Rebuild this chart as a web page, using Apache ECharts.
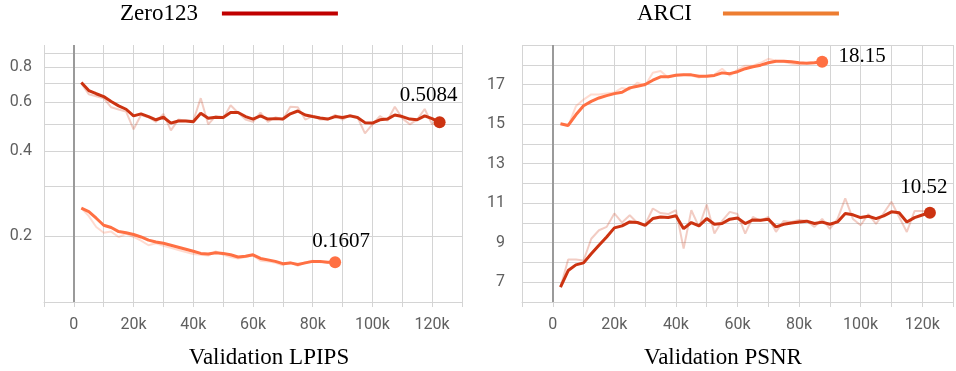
<!DOCTYPE html>
<html>
<head>
<meta charset="utf-8">
<script src="https://cdn.jsdelivr.net/npm/echarts@6/dist/echarts.min.js"></script>
<style>
  html, body { margin: 0; padding: 0; background: #fff; }
  #chart { width: 956px; height: 371px; }
</style>
</head>
<body>
<div id="chart"></div>
<script>
// validation steps (every 2.5k)
const steps = [2500, 5000, 7500, 10000, 12500, 15000, 17500, 20000, 22500, 25000,
  27500, 30000, 32500, 35000, 37500, 40000, 42500, 45000, 47500, 50000,
  52500, 55000, 57500, 60000, 62500, 65000, 67500, 70000, 72500, 75000,
  77500, 80000, 82500, 85000, 87500, 90000, 92500, 95000, 97500, 100000,
  102500, 105000, 107500, 110000, 112500, 115000, 117500, 120000, 122500];

// LPIPS (smoothed + raw)
const zeroLpips = [0.705, 0.660, 0.643, 0.628, 0.603, 0.582, 0.566, 0.536, 0.545, 0.533,
  0.519, 0.530, 0.505, 0.514, 0.514, 0.511, 0.548, 0.526, 0.530, 0.529,
  0.551, 0.551, 0.533, 0.522, 0.536, 0.522, 0.524, 0.522, 0.545, 0.558,
  0.540, 0.533, 0.527, 0.522, 0.533, 0.529, 0.536, 0.529, 0.507, 0.505,
  0.519, 0.522, 0.540, 0.533, 0.522, 0.519, 0.536, 0.524, 0.5084];
const zeroLpipsRaw = [0.700, 0.640, 0.630, 0.620, 0.575, 0.565, 0.555, 0.480, 0.540, 0.530,
  0.510, 0.545, 0.476, 0.520, 0.515, 0.515, 0.620, 0.500, 0.535, 0.525,
  0.585, 0.550, 0.520, 0.510, 0.550, 0.510, 0.530, 0.520, 0.578, 0.575,
  0.520, 0.535, 0.520, 0.520, 0.540, 0.520, 0.540, 0.530, 0.464, 0.500,
  0.535, 0.515, 0.578, 0.525, 0.500, 0.520, 0.567, 0.500, 0.510];
const arciLpips = [0.251, 0.244, 0.231, 0.218, 0.214, 0.207, 0.205, 0.202, 0.198, 0.193,
  0.190, 0.188, 0.185, 0.182, 0.179, 0.176, 0.173, 0.172, 0.174, 0.173,
  0.171, 0.168, 0.169, 0.171, 0.166, 0.164, 0.162, 0.159, 0.160, 0.158,
  0.160, 0.162, 0.162, 0.161, 0.1607];
const arciLpipsRaw = [0.251, 0.235, 0.215, 0.205, 0.207, 0.198, 0.203, 0.198, 0.192, 0.185,
  0.188, 0.184, 0.181, 0.178, 0.175, 0.172, 0.171, 0.170, 0.176, 0.171,
  0.168, 0.166, 0.168, 0.170, 0.163, 0.162, 0.160, 0.157, 0.161, 0.156,
  0.161, 0.163, 0.161, 0.160, 0.161];

// PSNR (smoothed + raw)
const zeroPsnr = [6.75, 7.59, 7.88, 7.98, 8.44, 8.87, 9.29, 9.75, 9.85, 10.05,
  10.02, 9.88, 10.22, 10.30, 10.27, 10.36, 9.71, 10.02, 9.85, 10.22,
  9.93, 9.97, 10.19, 10.25, 9.97, 10.15, 10.14, 10.19, 9.80, 9.93,
  10.00, 10.05, 10.09, 9.97, 10.04, 9.93, 10.05, 10.48, 10.41, 10.27,
  10.34, 10.22, 10.36, 10.56, 10.51, 10.05, 10.27, 10.40, 10.52];
const zeroPsnrRaw = [6.75, 8.15, 8.15, 8.10, 9.20, 9.63, 9.80, 10.48, 10.02, 10.39,
  10.00, 9.92, 10.73, 10.50, 10.45, 10.64, 8.70, 10.64, 9.80, 10.93,
  9.46, 10.10, 10.56, 10.45, 9.46, 10.30, 10.10, 10.30, 9.55, 10.10,
  10.05, 10.15, 10.10, 9.80, 10.20, 9.70, 10.20, 11.24, 10.20, 9.88,
  10.45, 9.95, 10.50, 11.07, 10.30, 9.54, 10.60, 10.60, 10.52];
const arciPsnr = [15.02, 14.93, 15.47, 15.93, 16.15, 16.32, 16.44, 16.54, 16.61, 16.83,
  16.91, 17.00, 17.22, 17.39, 17.39, 17.47, 17.49, 17.49, 17.42, 17.42,
  17.46, 17.59, 17.55, 17.65, 17.80, 17.90, 17.98, 18.10, 18.18, 18.18,
  18.15, 18.10, 18.08, 18.10, 18.15];
const arciPsnrRaw = [15.00, 14.90, 15.90, 16.24, 16.50, 16.50, 16.55, 16.60, 16.83, 16.75,
  17.10, 16.95, 17.60, 17.68, 17.35, 17.50, 17.50, 17.45, 17.35, 17.45,
  17.50, 17.80, 17.45, 17.75, 17.95, 17.95, 18.10, 18.30, 18.20, 18.15,
  18.05, 18.00, 18.10, 18.15, 18.15];

// axis ticks
const xLabels = [0, 20000, 40000, 60000, 80000, 100000, 120000];
const lpipsTicks = [0.2, 0.3, 0.4, 0.5, 0.6, 0.7, 0.8, 0.9];
const lpipsLabels = [0.2, 0.4, 0.6, 0.8];
const psnrLabels = [7, 9, 11, 13, 15, 17];

const ZERO = '#cc3311';
const ARCI = '#ff7043';
const GRID = '#d4d4d4';
const lg = Math.log10;

const chart = echarts.init(document.getElementById('chart'));

function pairs(vals, log) {
  return vals.map((v, i) => [steps[i], log ? lg(v) : v]);
}

function xAxis(idx) {
  return {
    gridIndex: idx, type: 'value', min: -10000, max: 130000, interval: 10000,
    axisLine: { show: true, lineStyle: { color: GRID } },
    axisTick: { show: true, length: 5, lineStyle: { color: GRID } },
    axisLabel: {
      customValues: xLabels, margin: 15,
      fontFamily: 'Roboto', fontSize: 16, color: '#5f5f5f',
      formatter: v => v === 0 ? '0' : (v / 1000) + 'k'
    },
    splitLine: { show: true, lineStyle: { color: GRID } }
  };
}

function rawLine(name, data, xi, color) {
  return {
    name: name, type: 'line', xAxisIndex: xi, yAxisIndex: xi, data: data,
    showSymbol: false, silent: true,
    lineStyle: { color: color, width: 2, opacity: 0.25 },
    itemStyle: { color: color }
  };
}

function smoothLine(name, data, xi, color, labelText, offset) {
  const last = data[data.length - 1];
  return {
    name: name, type: 'line', xAxisIndex: xi, yAxisIndex: xi, data: data,
    showSymbol: false,
    lineStyle: { color: color, width: 3 },
    itemStyle: { color: color },
    markPoint: {
      symbol: 'circle', symbolSize: 12,
      itemStyle: { color: color },
      label: {
        show: true, position: 'inside', offset: offset,
        formatter: labelText, fontFamily: 'Liberation Serif', fontSize: 21, color: '#000'
      },
      data: [{ coord: last }]
    }
  };
}

const zeroLine = {
  silent: true, symbol: 'none', label: { show: false },
  lineStyle: { color: '#9a9a9a', width: 2, type: 'solid' },
  data: [{ xAxis: 0 }]
};

const lpZeroRaw = rawLine('Zero123 raw', pairs(zeroLpipsRaw, true), 0, ZERO);
lpZeroRaw.markLine = zeroLine;
const psZeroRaw = rawLine('Zero123 raw', pairs(zeroPsnrRaw, false), 1, ZERO);
psZeroRaw.markLine = zeroLine;

function legendText(gap) {
  return { fontFamily: 'Liberation Serif', fontSize: 23, color: '#000', padding: [0, gap, 0, 0] };
}

chart.setOption({
  animation: false,
  grid: [
    { left: 44, top: 45, width: 418, height: 257 },
    { left: 522, top: 45, width: 431, height: 257 }
  ],
  legend: [
    {
      left: 120, top: 2, padding: 0, align: 'right', icon: 'rect',
      itemWidth: 116, itemHeight: 4, selectedMode: false,
      textStyle: legendText(19),
      data: [{ name: 'Zero123', itemStyle: { color: '#c00000' } }]
    },
    {
      left: 637, top: 2, padding: 0, align: 'right', icon: 'rect',
      itemWidth: 116, itemHeight: 4, selectedMode: false,
      textStyle: legendText(26),
      data: [{ name: 'ARCI', itemStyle: { color: '#ed7d31' } }]
    }
  ],
  xAxis: [xAxis(0), xAxis(1)],
  yAxis: [
    {
      gridIndex: 0, type: 'value', min: lg(0.116), max: lg(0.96),
      axisLine: { show: false },
      axisTick: { show: true, length: 6, lineStyle: { color: GRID }, customValues: lpipsTicks.map(lg) },
      axisLabel: {
        customValues: lpipsLabels.map(lg), margin: 12,
        fontFamily: 'Roboto', fontSize: 16, color: '#5f5f5f',
        formatter: v => Math.pow(10, v).toFixed(1)
      },
      splitLine: { show: true, lineStyle: { color: GRID } }
    },
    {
      gridIndex: 1, type: 'value', min: 6, max: 19, interval: 1,
      axisLine: { show: false },
      axisTick: { show: true, length: 6, lineStyle: { color: GRID } },
      axisLabel: {
        customValues: psnrLabels, margin: 17,
        fontFamily: 'Roboto', fontSize: 16, color: '#5f5f5f'
      },
      splitLine: { show: true, lineStyle: { color: GRID } }
    }
  ],
  graphic: [
    { type: 'text', x: 269, y: 358, style: { text: 'Validation LPIPS', font: '23px "Liberation Serif"', fill: '#000', align: 'center', verticalAlign: 'middle' } },
    { type: 'text', x: 723, y: 358, style: { text: 'Validation PSNR', font: '23px "Liberation Serif"', fill: '#000', align: 'center', verticalAlign: 'middle' } }
  ],
  series: [
    lpZeroRaw,
    rawLine('ARCI raw', pairs(arciLpipsRaw, true), 0, ARCI),
    smoothLine('Zero123', pairs(zeroLpips, true), 0, ZERO, String(zeroLpips[zeroLpips.length - 1]), [-11, -27]),
    smoothLine('ARCI', pairs(arciLpips, true), 0, ARCI, String(arciLpips[arciLpips.length - 1]), [6, -21]),
    psZeroRaw,
    rawLine('ARCI raw', pairs(arciPsnrRaw, false), 1, ARCI),
    smoothLine('Zero123', pairs(zeroPsnr, false), 1, ZERO, zeroPsnr[zeroPsnr.length - 1].toFixed(2), [-6, -25]),
    smoothLine('ARCI', pairs(arciPsnr, false), 1, ARCI, arciPsnr[arciPsnr.length - 1].toFixed(2), [40, -5])
  ]
});
</script>
</body>
</html>
